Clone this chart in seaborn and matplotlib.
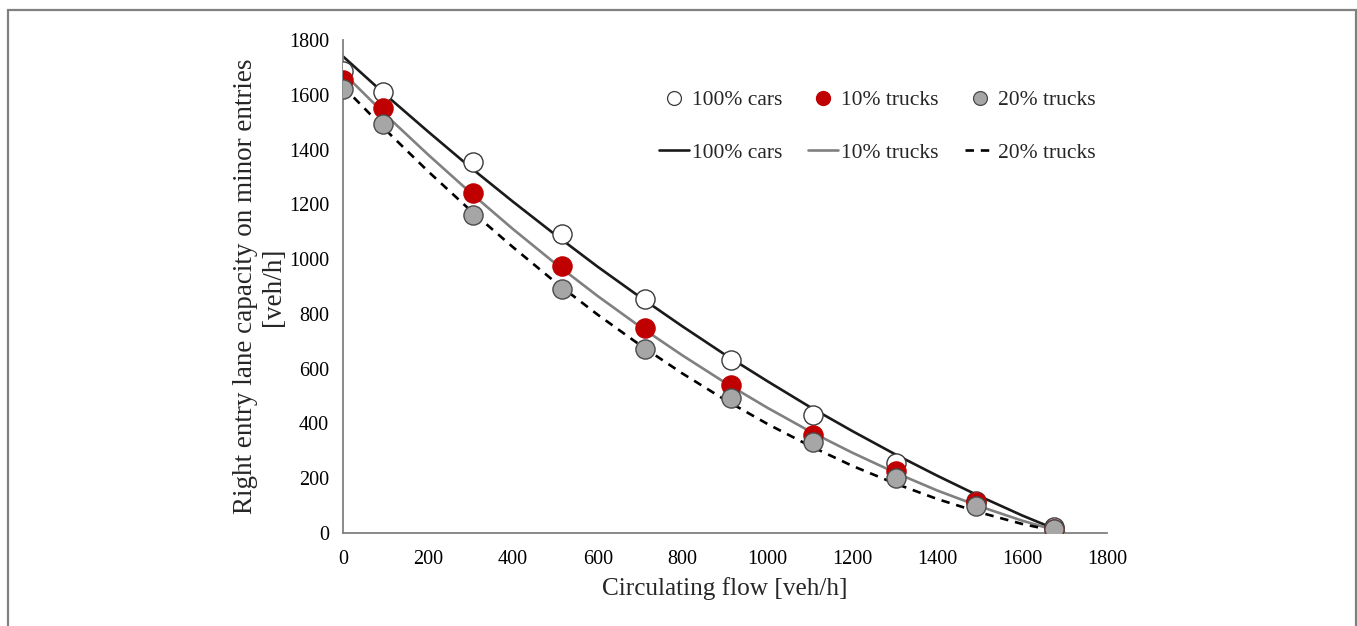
import pandas as pd
import matplotlib
matplotlib.use('Agg')
import matplotlib.pyplot as plt
from matplotlib.lines import Line2D
from matplotlib.patches import Rectangle
import seaborn as sns

# measured points (circulating flow vs entry capacity)
flujo = [0, 94, 306, 516, 712, 914, 1108, 1303, 1491, 1675]
cap_autos = [1685, 1610, 1355, 1090, 855, 632, 431, 256, 115, 20]
cap_10 = [1655, 1552, 1243, 975, 747, 540, 358, 226, 114, 15]
cap_20 = [1620, 1493, 1161, 891, 672, 493, 333, 201, 99, 15]

# model curves
flujo_mod = [0, 100, 200, 300, 400, 500, 600, 700, 800, 900,
             1000, 1100, 1200, 1300, 1400, 1500, 1600, 1700]
mod_autos = [1740, 1600, 1466, 1335, 1210, 1089, 972, 861, 754, 651,
             554, 460, 372, 288, 209, 134, 64, 0]
mod_10 = [1680, 1527, 1382, 1243, 1110, 984, 865, 753, 648, 549,
          457, 371, 293, 221, 155, 97, 45, 0]
mod_20 = [1630, 1472, 1321, 1178, 1044, 916, 797, 686, 582, 486,
          398, 318, 245, 181, 124, 75, 33, 0]

etiquetas = ['100% cars', '10% trucks', '20% trucks']
ticks = [0, 200, 400, 600, 800, 1000, 1200, 1400, 1600, 1800]

sns.set_style('white')
plt.rcParams['font.family'] = ['Liberation Serif', 'DejaVu Serif']

fig = plt.figure(figsize=(13.57, 6.26), dpi=100)
ax = fig.add_axes([0.2528, 0.1486, 0.563, 0.7875])

df_mod = pd.DataFrame({'q': flujo_mod, 'c0': mod_autos, 'c10': mod_10, 'c20': mod_20})
sns.lineplot(data=df_mod, x='q', y='c0', ax=ax, color='#1a1a1a', lw=1.9, zorder=2)
sns.lineplot(data=df_mod, x='q', y='c10', ax=ax, color='#808080', lw=1.9, zorder=2)
sns.lineplot(data=df_mod, x='q', y='c20', ax=ax, color='black', lw=1.9, zorder=2,
             dashes=False, linestyle=(0, (3.2, 2.6)))

df_pts = pd.DataFrame({'q': flujo, 'c0': cap_autos, 'c10': cap_10, 'c20': cap_20})
sns.scatterplot(data=df_pts, x='q', y='c0', ax=ax, s=190, color='white',
                edgecolor='#3a3a3a', linewidth=1.0, zorder=3)
sns.scatterplot(data=df_pts, x='q', y='c10', ax=ax, s=190, color='#C00000',
                edgecolor='#C00000', linewidth=1.0, zorder=4)
sns.scatterplot(data=df_pts, x='q', y='c20', ax=ax, s=190, color='#A6A6A6',
                edgecolor='#4a4a4a', linewidth=1.0, zorder=5)

ax.set_xlim(0, 1800)
ax.set_ylim(0, 1800)
ax.set_xticks(ticks)
ax.set_yticks(ticks)
ax.tick_params(axis='both', labelsize=14.5, colors='#808080', labelcolor='black',
               direction='out', length=6, width=1.2)
ax.tick_params(axis='x', length=7, pad=5)
ax.tick_params(axis='y', pad=4)
for s in ['top', 'right']:
    ax.spines[s].set_visible(False)
for s in ['left', 'bottom']:
    ax.spines[s].set_color('#808080')
    ax.spines[s].set_linewidth(1.3)

ax.set_xlabel('Circulating flow [veh/h]', fontsize=18.2, labelpad=6)
ax.set_ylabel('Right entry lane capacity on minor entries\n[veh/h]', fontsize=19.5,
              labelpad=2, linespacing=1.15)

# legends: markers row and lines row
h_pts = [Line2D([], [], ls='none', marker='o', markersize=10, markerfacecolor='white',
                markeredgecolor='#3a3a3a', markeredgewidth=0.9),
         Line2D([], [], ls='none', marker='o', markersize=10, markerfacecolor='#C00000',
                markeredgecolor='#C00000'),
         Line2D([], [], ls='none', marker='o', markersize=10, markerfacecolor='#A6A6A6',
                markeredgecolor='#4a4a4a', markeredgewidth=0.9)]
h_lin = [Line2D([], [], color='#1a1a1a', lw=1.9),
         Line2D([], [], color='#808080', lw=1.9),
         Line2D([], [], color='black', lw=1.9, linestyle=(0, (3.2, 2.6)))]

leg1 = fig.legend(h_pts, etiquetas, loc='center left', bbox_to_anchor=(0.471, 0.840),
                  ncol=3, frameon=False, fontsize=15.5, handlelength=1.4,
                  handletextpad=0.15, columnspacing=1.2)
leg2 = fig.legend(h_lin, etiquetas, loc='center left', bbox_to_anchor=(0.471, 0.756),
                  ncol=3, frameon=False, fontsize=15.5, handlelength=1.4,
                  handletextpad=0.15, columnspacing=1.2)

# outer frame
fig.patches.append(Rectangle((8 / 1357, -0.1), 1348 / 1357, 1.1 - 10 / 626,
                             transform=fig.transFigure, fill=False,
                             edgecolor='#808080', lw=1.6))

fig.savefig('out.png', dpi=100)
